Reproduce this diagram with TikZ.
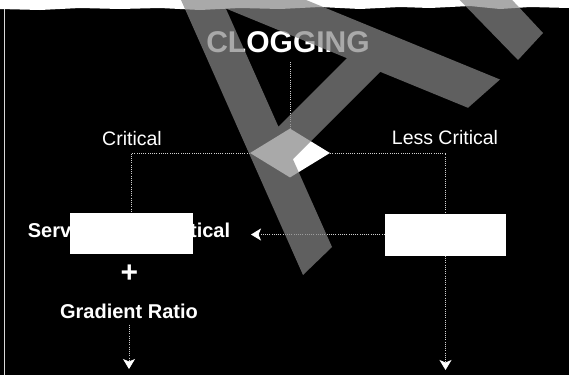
\documentclass[tikz,border=0pt]{standalone}
\usepackage{fontspec}
\setmainfont{Liberation Sans}
\usetikzlibrary{shapes.geometric,arrows.meta}
\definecolor{veil}{gray}{0.53}
\definecolor{dotc}{gray}{0.82}
\begin{document}
\begin{tikzpicture}[x=1pt,y=-1pt,
  dl/.style={draw=dotc, line width=0.7pt, dash pattern=on 1pt off 1.2pt},
  arr/.style={dl, -{Stealth[width=12pt,length=10pt,inset=2.5pt,color=white]}},
  box/.style={fill=white, draw=none, inner sep=0pt},
  dec/.style={diamond, fill=white, draw=none, inner sep=0pt, minimum width=80pt, minimum height=49pt},
  lbl/.style={text=white, inner sep=0pt, font=\fontsize{19.5}{22}\selectfont},
  blbl/.style={text=white, inner sep=0pt, font=\bfseries\fontsize{20}{23}\selectfont},
  ttl/.style={text=white, inner sep=0pt, font=\bfseries\fontsize{30}{34}\selectfont}]
\useasboundingbox (0,0) rectangle (569,375);
% paper
\fill[black] (0,0) rectangle (569,375);
\fill[white] (0,-1) -- (569,-1) -- (569,8) -- (530,7) -- (500,9) -- (470,6) -- (430,8) -- (400,7) -- (360,9) -- (320,7) -- (280,9) -- (240,8) -- (200,10) -- (160,8) -- (120,9) -- (80,8) -- (40,10) -- (0,9) -- cycle;
\draw[white!85!black, line width=1.2pt] (4.5,9) -- (4.5,375);
% diagram
\node[ttl] (clog) at (288,42) {CLOGGING};
\node[dec] (dec) at (290,153) {};
\node[lbl] (crit) at (132,139) {Critical};
\node[lbl] (less) at (445,138) {Less Critical};
\node[blbl] (serv) at (129,232) {Serviceability Critical};
\node[box, minimum width=123pt, minimum height=41pt] (lbox) at (131.5,233.5) {};
\node[box, minimum width=121pt, minimum height=42pt] (rbox) at (445.5,234.5) {};
\node[text=white, inner sep=0pt, font=\bfseries\fontsize{30}{34}\selectfont] (plus) at (129.5,274) {+};
\node[blbl] (grad) at (129,311) {Gradient Ratio};
\coordinate (ct) at (290,62);
\coordinate (cl) at (131.5,153);
\coordinate (cr) at (445.5,153);
\coordinate (ltip) at (251,234.5);
\coordinate (gb) at (129,369);
\coordinate (rb) at (445.5,370);
\draw[dl] (ct) -- (dec.north);
\draw[dl] (dec.west) -- (cl) -- (lbox.north);
\draw[dl] (dec.east) -- (cr) -- (rbox.north);
\draw[arr] (rbox.west) -- (ltip);
\draw[arr, shorten <=6pt] (grad.south) -- (gb);
\draw[arr] (rbox.south) -- (rb);
% translucent overlay mark
\begin{scope}
\clip (0,0) rectangle (569,375);
\fill[veil, fill opacity=0.71, nonzero rule]
  (175.7,-12) -- (216.7,-12) -- (332,247) -- (303,275) -- cycle
  (180,-10.3) -- (281,-10.3) -- (500,79.5) -- (468,107.8) -- cycle
  (277,128) -- (347,58) -- (380,72) -- (292.7,159.3) -- cycle
  (448,-12) -- (501,-12) -- (543,33) -- (518,60) -- cycle;
\end{scope}
\end{tikzpicture}
\end{document}
